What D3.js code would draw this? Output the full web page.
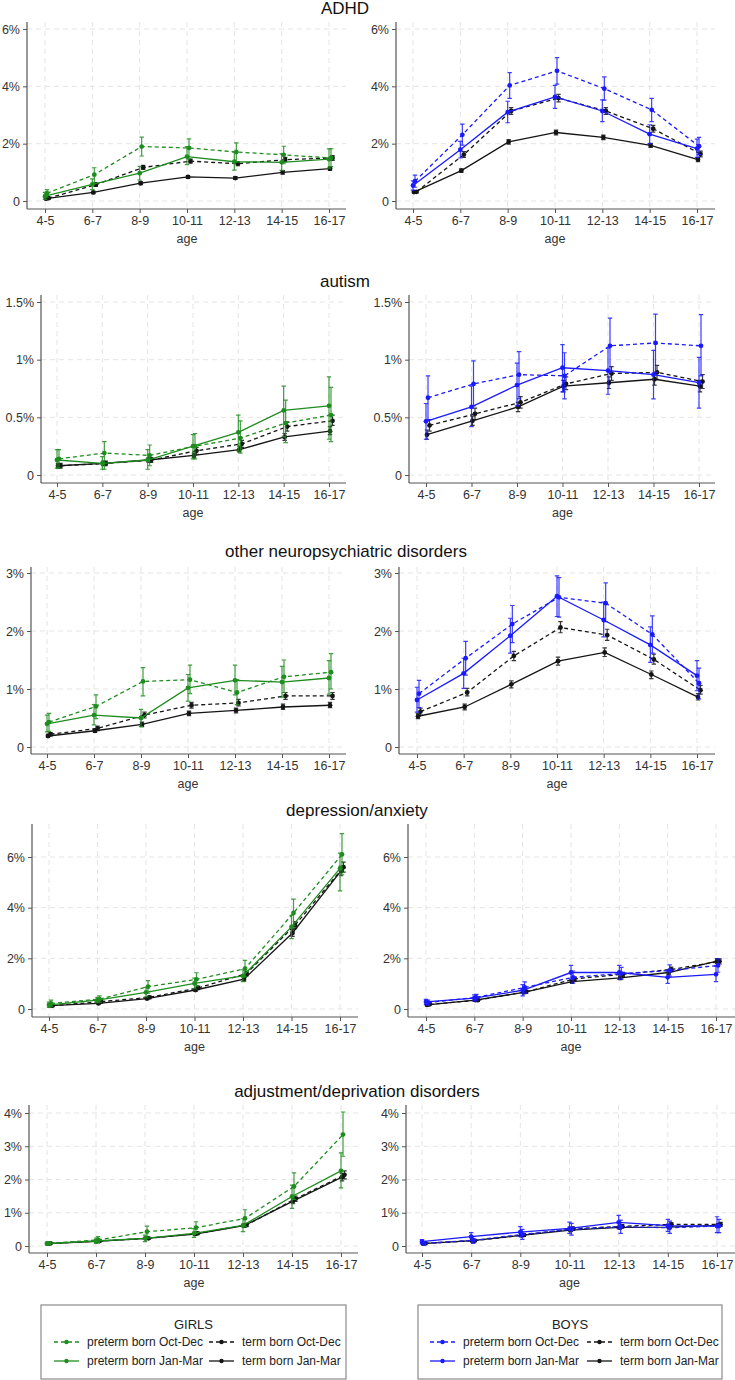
<!DOCTYPE html>
<html>
<head>
<meta charset="utf-8">
<script src="https://cdn.jsdelivr.net/npm/d3@7"></script>
<style>
  body { margin: 0; background: #fff; }
  svg { display: block; font-family: Arial, "Liberation Sans", sans-serif; }
</style>
</head>
<body>
<svg id="chart" width="735" height="1380"></svg>
<script>
// age groups on the x axis
const ages = ["4-5", "6-7", "8-9", "10-11", "12-13", "14-15", "16-17"];

// each point is [estimate, ci low, ci high] in percent
const adhdGirls = {
    preOD: [[0.27,0.13,0.40],[0.92,0.62,1.16],[1.90,1.57,2.23],[1.85,1.47,2.17],[1.71,1.37,2.03],[1.61,1.30,1.91],[1.50,1.20,1.83]],
    preJM: [[0.17,0.06,0.30],[0.58,0.40,0.77],[0.97,0.73,1.21],[1.55,1.27,1.90],[1.37,1.08,1.70],[1.35,1.07,1.65],[1.46,1.15,1.82]],
    termOD: [[0.10,0.06,0.14],[0.57,0.51,0.63],[1.17,1.10,1.24],[1.39,1.32,1.46],[1.30,1.23,1.37],[1.44,1.37,1.52],[1.50,1.42,1.58]],
    termJM: [[0.08,0.05,0.11],[0.30,0.26,0.34],[0.62,0.57,0.67],[0.84,0.79,0.89],[0.80,0.75,0.85],[1.00,0.94,1.06],[1.13,1.07,1.19]]
};
const adhdBoys = {
    preOD: [[0.69,0.48,0.90],[2.31,1.95,2.68],[4.03,3.58,4.48],[4.54,4.08,5.00],[3.92,3.52,4.33],[3.18,2.77,3.58],[1.91,1.62,2.22]],
    preJM: [[0.54,0.38,0.70],[1.79,1.50,2.08],[3.10,2.73,3.48],[3.63,3.23,4.03],[3.14,2.77,3.53],[2.33,2.00,2.66],[1.83,1.52,2.16]],
    termOD: [[0.32,0.28,0.36],[1.62,1.52,1.72],[3.14,3.02,3.26],[3.59,3.46,3.72],[3.14,3.02,3.26],[2.52,2.40,2.64],[1.64,1.54,1.74]],
    termJM: [[0.31,0.28,0.34],[1.06,1.00,1.12],[2.06,1.98,2.14],[2.39,2.31,2.47],[2.22,2.14,2.30],[1.94,1.87,2.01],[1.44,1.37,1.51]]
};
const autismGirls = {
    preOD: [[0.14,0.06,0.22],[0.19,0.05,0.29],[0.17,0.08,0.26],[0.25,0.14,0.36],[0.32,0.19,0.47],[0.45,0.28,0.65],[0.52,0.29,0.76]],
    preJM: [[0.13,0.06,0.22],[0.10,0.05,0.16],[0.13,0.05,0.22],[0.25,0.14,0.35],[0.37,0.21,0.52],[0.56,0.33,0.77],[0.60,0.31,0.85]],
    termOD: [[0.08,0.06,0.10],[0.10,0.08,0.12],[0.13,0.11,0.15],[0.21,0.18,0.24],[0.27,0.24,0.30],[0.42,0.38,0.46],[0.47,0.43,0.52]],
    termJM: [[0.08,0.06,0.10],[0.10,0.08,0.12],[0.13,0.11,0.15],[0.17,0.15,0.19],[0.22,0.20,0.25],[0.33,0.30,0.36],[0.38,0.35,0.42]]
};
const autismBoys = {
    preOD: [[0.67,0.48,0.86],[0.79,0.60,0.99],[0.87,0.66,1.07],[0.86,0.66,1.06],[1.12,0.89,1.36],[1.145,0.89,1.395],[1.12,0.86,1.39]],
    preJM: [[0.465,0.31,0.62],[0.59,0.42,0.77],[0.78,0.60,0.97],[0.93,0.72,1.13],[0.905,0.70,1.10],[0.87,0.66,1.08],[0.80,0.58,1.02]],
    termOD: [[0.43,0.38,0.48],[0.53,0.48,0.58],[0.63,0.58,0.68],[0.79,0.74,0.85],[0.88,0.82,0.94],[0.89,0.83,0.95],[0.81,0.75,0.87]],
    termJM: [[0.35,0.31,0.39],[0.47,0.43,0.51],[0.59,0.55,0.63],[0.77,0.72,0.82],[0.80,0.75,0.85],[0.83,0.78,0.88],[0.77,0.72,0.82]]
};
const neuroGirls = {
    preOD: [[0.43,0.27,0.58],[0.70,0.49,0.90],[1.13,0.88,1.37],[1.16,0.92,1.41],[0.94,0.73,1.16],[1.21,0.94,1.50],[1.29,1.00,1.61]],
    preJM: [[0.40,0.26,0.55],[0.55,0.38,0.73],[0.50,0.35,0.65],[1.02,0.79,1.25],[1.15,0.90,1.41],[1.12,0.86,1.39],[1.19,0.91,1.49]],
    termOD: [[0.22,0.19,0.25],[0.32,0.28,0.36],[0.55,0.50,0.60],[0.72,0.67,0.77],[0.76,0.71,0.82],[0.88,0.82,0.94],[0.88,0.82,0.94]],
    termJM: [[0.19,0.17,0.22],[0.28,0.25,0.31],[0.39,0.35,0.43],[0.58,0.54,0.62],[0.63,0.59,0.67],[0.69,0.65,0.74],[0.72,0.68,0.77]]
};
const neuroBoys = {
    preOD: [[0.92,0.68,1.15],[1.53,1.24,1.82],[2.12,1.80,2.44],[2.58,2.24,2.92],[2.48,2.16,2.83],[1.94,1.62,2.26],[1.10,0.83,1.36]],
    preJM: [[0.81,0.60,1.03],[1.27,1.01,1.53],[1.92,1.62,2.22],[2.60,2.25,2.95],[2.19,1.90,2.50],[1.76,1.46,2.07],[1.23,0.97,1.49]],
    termOD: [[0.61,0.55,0.67],[0.94,0.88,1.01],[1.57,1.49,1.65],[2.06,1.97,2.16],[1.93,1.84,2.03],[1.51,1.43,1.60],[0.98,0.91,1.06]],
    termJM: [[0.53,0.49,0.58],[0.69,0.64,0.74],[1.08,1.02,1.14],[1.48,1.41,1.55],[1.63,1.56,1.71],[1.25,1.18,1.31],[0.86,0.81,0.92]]
};
const deprGirls = {
    preOD: [[0.22,0.10,0.35],[0.39,0.27,0.52],[0.88,0.63,1.12],[1.17,0.90,1.43],[1.59,1.27,1.92],[3.79,3.30,4.34],[6.10,5.30,6.92]],
    preJM: [[0.16,0.06,0.27],[0.35,0.25,0.46],[0.66,0.48,0.85],[1.01,0.80,1.22],[1.31,1.08,1.55],[3.24,2.78,3.70],[5.55,4.66,6.15]],
    termOD: [[0.13,0.10,0.16],[0.29,0.25,0.33],[0.46,0.41,0.51],[0.83,0.76,0.90],[1.40,1.31,1.49],[3.31,3.17,3.45],[5.60,5.40,5.80]],
    termJM: [[0.13,0.10,0.16],[0.22,0.19,0.25],[0.41,0.37,0.45],[0.75,0.69,0.81],[1.18,1.10,1.26],[3.00,2.87,3.13],[5.45,5.26,5.64]]
};
const deprBoys = {
    preOD: [[0.25,0.15,0.35],[0.46,0.35,0.58],[0.85,0.63,1.07],[1.25,1.02,1.50],[1.40,1.18,1.64],[1.52,1.30,1.74],[1.72,1.45,1.98]],
    preJM: [[0.28,0.18,0.38],[0.43,0.31,0.56],[0.74,0.52,0.96],[1.44,1.18,1.72],[1.44,1.17,1.72],[1.25,1.01,1.50],[1.37,1.08,1.68]],
    termOD: [[0.18,0.15,0.21],[0.35,0.31,0.39],[0.68,0.63,0.74],[1.19,1.12,1.26],[1.37,1.29,1.45],[1.56,1.47,1.65],[1.88,1.78,1.98]],
    termJM: [[0.16,0.13,0.19],[0.35,0.31,0.39],[0.66,0.61,0.71],[1.08,1.02,1.14],[1.23,1.16,1.30],[1.44,1.36,1.52],[1.89,1.79,1.99]]
};
const adjGirls = {
    preOD: [[0.08,0.04,0.13],[0.18,0.10,0.28],[0.43,0.27,0.60],[0.55,0.37,0.73],[0.83,0.58,1.09],[1.79,1.40,2.20],[3.35,2.70,4.03]],
    preJM: [[0.07,0.03,0.12],[0.15,0.08,0.24],[0.23,0.13,0.33],[0.38,0.26,0.52],[0.62,0.43,0.82],[1.49,1.13,1.83],[2.26,1.75,2.80]],
    termOD: [[0.08,0.06,0.10],[0.15,0.13,0.18],[0.23,0.20,0.26],[0.38,0.34,0.42],[0.63,0.58,0.68],[1.42,1.34,1.50],[2.14,2.02,2.26]],
    termJM: [[0.07,0.05,0.09],[0.14,0.12,0.17],[0.23,0.20,0.26],[0.36,0.32,0.40],[0.61,0.56,0.66],[1.35,1.27,1.43],[2.07,1.96,2.18]]
};
const adjBoys = {
    preOD: [[0.08,0.03,0.14],[0.17,0.08,0.28],[0.35,0.20,0.50],[0.50,0.33,0.68],[0.58,0.38,0.78],[0.55,0.38,0.75],[0.60,0.40,0.80]],
    preJM: [[0.13,0.07,0.19],[0.28,0.17,0.40],[0.42,0.28,0.58],[0.53,0.38,0.72],[0.71,0.52,0.92],[0.61,0.44,0.80],[0.60,0.40,0.88]],
    termOD: [[0.08,0.06,0.10],[0.16,0.13,0.19],[0.33,0.29,0.37],[0.52,0.47,0.57],[0.59,0.54,0.64],[0.65,0.60,0.70],[0.65,0.59,0.71]],
    termJM: [[0.07,0.05,0.09],[0.16,0.13,0.19],[0.32,0.28,0.36],[0.48,0.44,0.52],[0.56,0.51,0.61],[0.57,0.52,0.62],[0.62,0.57,0.67]]
};

const titles = ["ADHD", "autism", "other neuropsychiatric disorders", "depression/anxiety", "adjustment/deprivation disorders"];
const yTicks = [[0, 2, 4, 6], [0, 0.5, 1, 1.5], [0, 1, 2, 3], [0, 2, 4, 6], [0, 1, 2, 3, 4]];
const girlsData = [adhdGirls, autismGirls, neuroGirls, deprGirls, adjGirls];
const boysData = [adhdBoys, autismBoys, neuroBoys, deprBoys, adjBoys];

const seriesOrder = ["termJM", "termOD", "preJM", "preOD"];
const legendLabels = {
    preOD: "preterm born Oct-Dec",
    termOD: "term born Oct-Dec",
    preJM: "preterm born Jan-Mar",
    termJM: "term born Jan-Mar"
};

// pixel layout of each row of panels (they were glued together, so each differs a bit)
const layout = [
    {titleX: 345, titleY: 14, zero: 201, top: 29, axisTop: 22, axisBottom: 209,
     L: {axis: 27, x0: 45, x1: 329, right: 346}, R: {axis: 396, x0: 413, x1: 697, right: 715}},
    {titleX: 345, titleY: 287, zero: 475, top: 302, axisTop: 295, axisBottom: 483,
     L: {axis: 41, x0: 57, x1: 329, right: 346}, R: {axis: 409, x0: 426, x1: 699, right: 715}},
    {titleX: 346, titleY: 557, zero: 747, top: 573, axisTop: 567, axisBottom: 754,
     L: {axis: 31, x0: 47, x1: 329, right: 346}, R: {axis: 399, x0: 417, x1: 697, right: 715}},
    {titleX: 357, titleY: 816, zero: 1009, top: 857, axisTop: 824, axisBottom: 1017,
     L: {axis: 32, x0: 49, x1: 340, right: 358}, R: {axis: 408, x0: 426, x1: 716, right: 735}},
    {titleX: 357, titleY: 1097, zero: 1246, top: 1113, axisTop: 1105, axisBottom: 1253,
     L: {axis: 29, x0: 47, x1: 341, right: 358}, R: {axis: 406, x0: 422, x1: 717, right: 735}}
];

const green = "#1f8c1f";
const blue = "#1a1aff";
const black = "#151515";
const axisColor = "#555";
const textColor = "#333";
const gridColor = "#e4e4e4";
// small horizontal shift so overlapping points stay visible
const dodge = {preJM: 0, termJM: 1, preOD: 2, termOD: 3.5};

let svg = d3.select("#chart");

function fmtPct(v) {
    return v === 0 ? "0" : v + "%";
}

function drawPanel(g, data, ticks, row, box, color) {
    let yMax = ticks[ticks.length - 1];
    let y = d3.scaleLinear().domain([0, yMax]).range([row.zero, row.top]);
    let x = d3.scalePoint().domain(ages).range([box.x0, box.x1]);

    // grid
    g.selectAll(".hgrid").data(ticks).enter().append("line")
        .attr("x1", box.axis).attr("x2", box.right)
        .attr("y1", d => y(d)).attr("y2", d => y(d))
        .attr("stroke", gridColor).attr("stroke-width", 1)
        .attr("stroke-dasharray", "5,4");
    g.selectAll(".vgrid").data(ages).enter().append("line")
        .attr("x1", d => x(d)).attr("x2", d => x(d))
        .attr("y1", row.axisTop).attr("y2", row.axisBottom)
        .attr("stroke", gridColor).attr("stroke-width", 1)
        .attr("stroke-dasharray", "5,4");

    // axes
    let yAxis = g.append("g")
        .attr("transform", "translate(" + box.axis + ",0)")
        .call(d3.axisLeft(y).tickValues(ticks).tickFormat(fmtPct).tickSize(4).tickPadding(3));
    let xAxis = g.append("g")
        .attr("transform", "translate(0," + row.axisBottom + ")")
        .call(d3.axisBottom(x).tickSize(4).tickPadding(3));
    for (let ax of [yAxis, xAxis]) {
        ax.select(".domain").remove();
        ax.selectAll(".tick line").attr("stroke", axisColor);
        ax.selectAll(".tick text")
            .attr("fill", textColor)
            .style("font-size", "12.5px")
            .style("font-family", "Arial, Liberation Sans, sans-serif");
    }
    g.append("line")
        .attr("x1", box.axis).attr("x2", box.axis)
        .attr("y1", row.axisTop).attr("y2", row.axisBottom)
        .attr("stroke", axisColor).attr("stroke-width", 1.2);
    g.append("line")
        .attr("x1", box.axis).attr("x2", box.right)
        .attr("y1", row.axisBottom).attr("y2", row.axisBottom)
        .attr("stroke", axisColor).attr("stroke-width", 1.2);
    g.append("text")
        .attr("x", (box.x0 + box.x1) / 2)
        .attr("y", row.axisBottom + 34)
        .attr("text-anchor", "middle")
        .attr("fill", textColor)
        .style("font-size", "12.5px")
        .text("age");

    // series
    for (let key of seriesOrder) {
        let c = key.startsWith("pre") ? color : black;
        let dashed = key.endsWith("OD");
        let pts = data[key].map((d, i) => ({x: x(ages[i]) + dodge[key], est: d[0], lo: d[1], hi: d[2]}));
        let s = g.append("g");

        s.selectAll(".bar").data(pts).enter().append("path")
            .attr("d", d => "M" + d.x + "," + y(d.lo) + "V" + y(d.hi)
                + "M" + (d.x - 2.2) + "," + y(d.lo) + "h4.4"
                + "M" + (d.x - 2.2) + "," + y(d.hi) + "h4.4")
            .attr("fill", "none")
            .attr("stroke", c)
            .attr("stroke-opacity", 0.85)
            .attr("stroke-width", 1.2);

        let line = d3.line().x(d => d.x).y(d => y(d.est));
        s.append("path")
            .datum(pts)
            .attr("d", line)
            .attr("fill", "none")
            .attr("stroke", c)
            .attr("stroke-width", 1.3)
            .attr("stroke-dasharray", dashed ? "4,3" : null);

        s.selectAll(".pt").data(pts).enter().append("circle")
            .attr("cx", d => d.x)
            .attr("cy", d => y(d.est))
            .attr("r", 2.4)
            .attr("fill", c);
    }
}

layout.forEach(function(row, i) {
    svg.append("text")
        .attr("x", row.titleX)
        .attr("y", row.titleY)
        .attr("text-anchor", "middle")
        .attr("fill", "#111")
        .style("font-size", "17px")
        .text(titles[i]);
    drawPanel(svg.append("g"), girlsData[i], yTicks[i], row, row.L, green);
    drawPanel(svg.append("g"), boysData[i], yTicks[i], row, row.R, blue);
});

// legends
function drawLegend(x0, x1, heading, color, cols) {
    let g = svg.append("g");
    g.append("rect")
        .attr("x", x0).attr("y", 1305)
        .attr("width", x1 - x0).attr("height", 74)
        .attr("fill", "#fff")
        .attr("stroke", "#8a8a8a").attr("stroke-width", 1.2);
    g.append("text")
        .attr("x", (x0 + x1) / 2).attr("y", 1329)
        .attr("text-anchor", "middle")
        .attr("fill", "#222")
        .style("font-size", "13px")
        .text(heading);

    let rows = [["preOD", "termOD"], ["preJM", "termJM"]];
    rows.forEach(function(r, ri) {
        let yy = 1342 + ri * 19;
        r.forEach(function(key, ci) {
            let lx = cols[ci];
            let c = key.startsWith("pre") ? color : black;
            g.append("line")
                .attr("x1", lx).attr("x2", lx + 25)
                .attr("y1", yy).attr("y2", yy)
                .attr("stroke", c).attr("stroke-width", 1.3)
                .attr("stroke-dasharray", key.endsWith("OD") ? "4,3" : null);
            g.append("circle")
                .attr("cx", lx + 12.5).attr("cy", yy).attr("r", 2.2)
                .attr("fill", c);
            g.append("text")
                .attr("x", lx + 33).attr("y", yy + 4.3)
                .attr("fill", "#222")
                .style("font-size", "12px")
                .text(legendLabels[key]);
        });
    });
}

drawLegend(41, 346, "GIRLS", green, [54, 209]);
drawLegend(418, 722, "BOYS", blue, [430, 587]);
</script>
</body>
</html>
